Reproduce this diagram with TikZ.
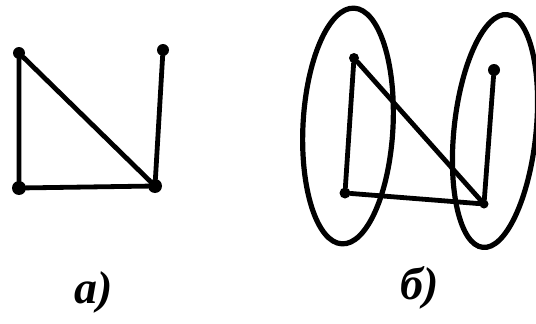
\documentclass[tikz,border=0pt]{standalone}
\usepackage{fontspec}
\setmainfont{Liberation Serif}
\begin{document}
\begin{tikzpicture}[x=1pt,y=-1pt,
  vtx/.style={circle,fill=black,inner sep=0pt,minimum size=12pt},
  edge/.style={line width=4.8pt,line cap=round,line join=round},
  blob/.style={line width=5.2pt},
  lbl/.style={font=\fontsize{46}{46}\selectfont\bfseries\itshape}]
\useasboundingbox (0,0) rectangle (536,324);
% graph a
\node[vtx] (a1) at (19,53) {};
\node[vtx] (a2) at (163,50) {};
\node[vtx,minimum size=14pt] (a3) at (19,188) {};
\node[vtx,minimum size=14pt] (a4) at (155,186) {};
\draw[edge] (a1) -- (a3) -- (a4) -- (a1);
\draw[edge] (a2) -- (a4);
\node[lbl] (la) at (94,292) {а)};
% graph b
\node[vtx,minimum size=10pt] (b1) at (354,58) {};
\node[vtx,minimum size=11pt] (b2) at (345,193) {};
\node[vtx,minimum size=9pt] (b3) at (484,204) {};
\node[vtx,minimum size=12pt] (b4) at (494,70) {};
\draw[edge] (b1) -- (b2) -- (b3) -- (b1);
\draw[edge] (b4) -- (b3);
\draw[blob,rotate around={-3:(348,126)}] (348,126) ellipse [x radius=45, y radius=118];
\draw[blob,rotate around={-6:(495,131)}] (495,131) ellipse [x radius=41, y radius=117];
\node[lbl] (lb) at (420,288) {б)};
\end{tikzpicture}
\end{document}
